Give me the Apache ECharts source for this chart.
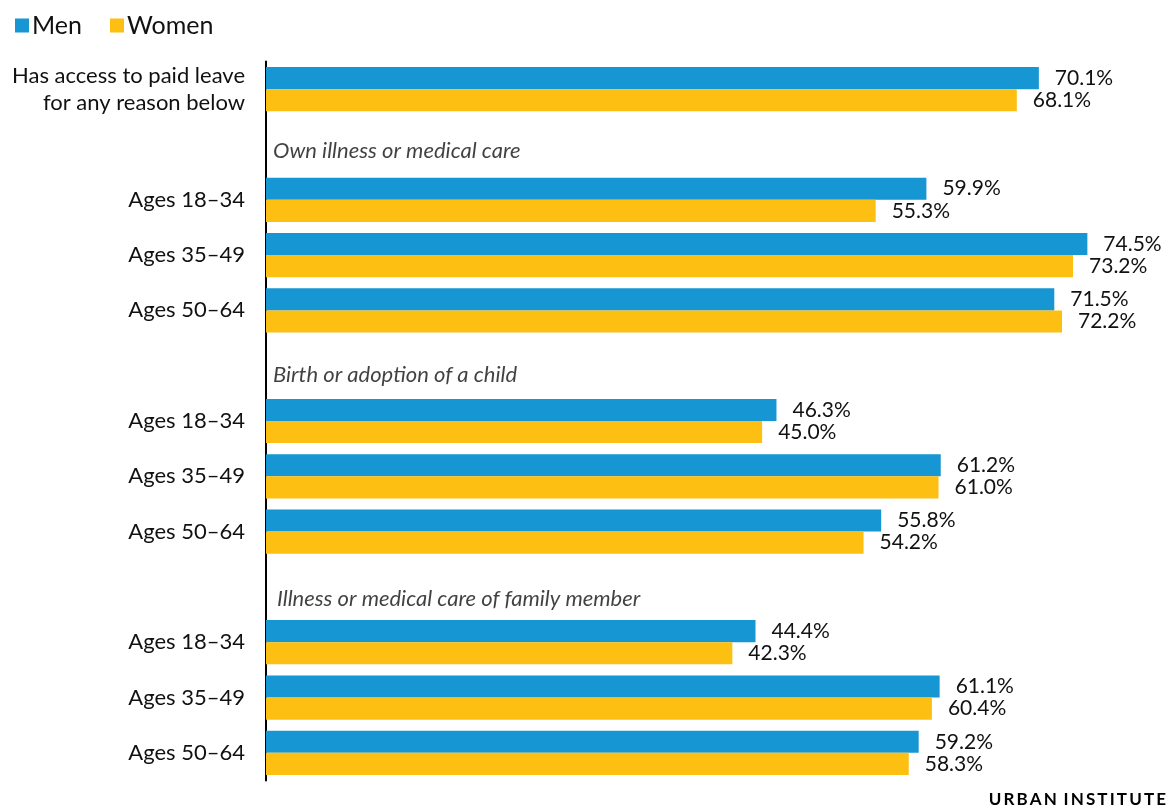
<!DOCTYPE html>
<html><head><meta charset="utf-8">
<script src="https://cdn.jsdelivr.net/npm/echarts@6/dist/echarts.min.js"></script>
<style>html,body{margin:0;padding:0;background:#fff}#c{width:1166px;height:806px}</style>
</head><body><div id="c"></div>
<script>
const categories = ['Has access to paid leave\nfor any reason below', 'h1', 'Ages 18–34', 'Ages 35–49', 'Ages 50–64', 'h2', 'Ages 18–34', 'Ages 35–49', 'Ages 50–64', 'h3', 'Ages 18–34', 'Ages 35–49', 'Ages 50–64'];
const men =   [70.1, '-', 59.9, 74.5, 71.5, '-', 46.3, 61.2, 55.8, '-', 44.4, 61.1, 59.2];
const women = [68.1, '-', 55.3, 73.2, 72.2, '-', 45.0, 61.0, 54.2, '-', 42.3, 60.4, 58.3];
const headers = [
  {index: 1, text: 'Own illness or medical care'},
  {index: 5, text: 'Birth or adoption of a child'},
  {index: 9, text: 'Illness or medical care of family member'}
];
const headerOffsets = [[7, 6], [7, 9], [11, 12]];

const FONT = 'Lato';
const chart = echarts.init(document.getElementById('c'), null, {renderer: 'canvas'});
const lbl = {show: true, position: 'right', distance: 16, fontFamily: FONT, fontSize: 21, color: '#111',
  formatter: p => p.value.toFixed(1) + '%'};
const spaced = s => s.split('').join('\u2009');
chart.setOption({
  animation: false,
  textStyle: {fontFamily: FONT},
  legend: {
    left: 10, top: 8, itemWidth: 14, itemHeight: 14, itemGap: 28,
    icon: 'rect',
    textStyle: {fontFamily: FONT, fontSize: 25, color: '#111', padding: [0, 0, 0, -2]},
    data: ['Men', 'Women']
  },
  grid: {left: 266, right: 18, top: 61.5, bottom: 25.5, containLabel: false},
  xAxis: {type: 'value', min: 0, max: 80, show: false},
  yAxis: {
    type: 'category', inverse: true, data: categories,
    axisLine: {show: true, lineStyle: {color: '#000', width: 2}},
    axisTick: {show: false},
    axisLabel: {
      margin: 21, fontFamily: FONT, fontSize: 22, color: '#111', lineHeight: 27,
      formatter: v => v.startsWith('h') && v.length === 2 ? '' : v
    }
  },
  series: [
    {name: 'Men', type: 'bar', data: men, barGap: '0%', barCategoryGap: '20%',
     itemStyle: {color: '#1696d2'}, label: lbl},
    {name: 'Women', type: 'bar', data: women, barGap: '0%', barCategoryGap: '20%',
     itemStyle: {color: '#fdbf11'}, label: lbl},
    {name: 'headers', type: 'scatter', symbolSize: 0, silent: true,
     data: headers.map((h, i) => ({value: [0, h.index], name: h.text,
       label: {show: true, position: 'right', distance: 0, offset: headerOffsets[i],
         formatter: h.text, fontFamily: FONT, fontStyle: 'italic', fontSize: 22, color: '#111'}}))}
  ],
  graphic: [{
    type: 'text', right: 0, bottom: -2,
    style: {
      text: '{a|' + spaced('URBAN') + '}  {b|' + spaced('INSTITUTE') + '}',
      rich: {
        a: {fontFamily: FONT, fontWeight: 'bold', fontSize: 17, color: '#1696d2'},
        b: {fontFamily: FONT, fontWeight: 'bold', fontSize: 17, color: '#111'}
      }
    }
  }]
});
</script></body></html>
